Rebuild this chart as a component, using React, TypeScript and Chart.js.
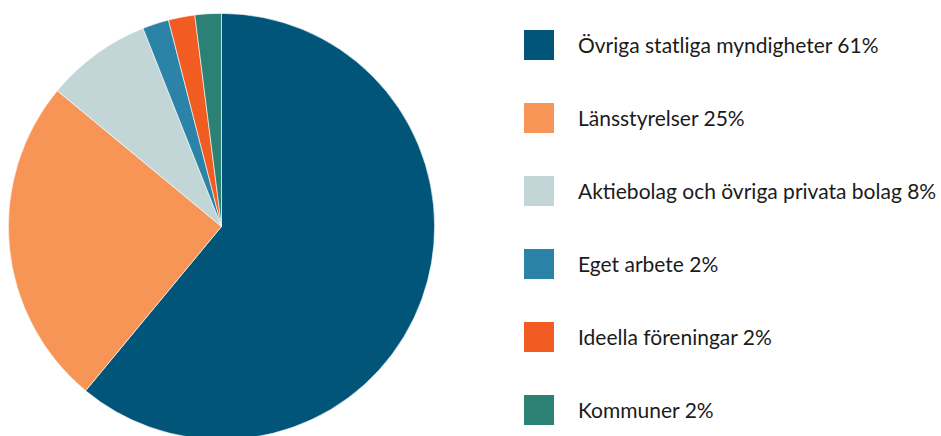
import React, { useEffect, useRef } from "react";
import { Chart, registerables } from "chart.js";

Chart.register(...registerables);

const categories: string[] = [
  "Övriga statliga myndigheter",
  "Länsstyrelser",
  "Aktiebolag och övriga privata bolag",
  "Eget arbete",
  "Ideella föreningar",
  "Kommuner",
];
const shares: number[] = [61, 25, 8, 2, 2, 2];
const colors: string[] = ["#005578", "#F79556", "#C2D6D8", "#2B84A8", "#F15C22", "#2C8174"];

export default function App() {
  const canvasRef = useRef<HTMLCanvasElement | null>(null);

  useEffect(() => {
    const ctx = canvasRef.current;
    if (!ctx) return;
    const chart = new Chart(ctx, {
      type: "pie",
      data: {
        labels: categories,
        datasets: [
          {
            data: shares,
            backgroundColor: colors,
            borderColor: "rgba(255,255,255,0.8)",
            borderWidth: 0.75,
            hoverOffset: 0,
          },
        ],
      },
      options: {
        responsive: false,
        animation: false,
        layout: { padding: 0 },
        plugins: {
          legend: { display: false },
          tooltip: { enabled: false },
        },
      },
    });
    return () => chart.destroy();
  }, []);

  const fontFamily = "Lato, 'Noto Sans', sans-serif";

  return (
    <div
      style={{
        position: "fixed",
        left: 0,
        top: 0,
        width: 941,
        height: 436,
        overflow: "hidden",
        background: "#ffffff",
      }}
    >
      <canvas
        ref={canvasRef}
        width={427}
        height={427}
        style={{ position: "absolute", left: 8, top: 13, width: 427, height: 427 }}
      />
      {categories.map((c, i) => (
        <div
          key={c}
          style={{
            position: "absolute",
            left: 524,
            top: 30 + i * 72.9,
            height: 30,
            display: "flex",
            alignItems: "center",
            whiteSpace: "nowrap",
          }}
        >
          <div style={{ width: 30, height: 30, background: colors[i], flex: "none" }} />
          <span
            style={{
              marginLeft: 24,
              fontFamily,
              fontSize: 21,
              color: "#1b1b1b",
              lineHeight: "30px",
            }}
          >
            {`${c} ${shares[i]}%`}
          </span>
        </div>
      ))}
    </div>
  );
}
